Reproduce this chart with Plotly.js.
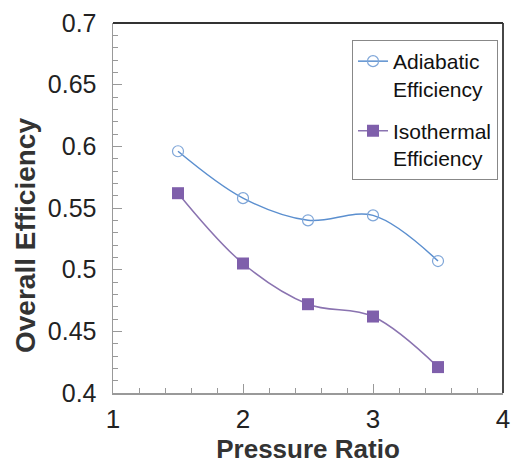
<!DOCTYPE html>
<html><head><meta charset="utf-8">
<script src="https://cdn.plot.ly/plotly-3.0.1.min.js"></script>
<style>html,body{margin:0;padding:0;background:#fff}#c{width:512px;height:465px}</style>
</head><body><div id="c"></div>
<script>
const pressureRatio = [1.5, 2, 2.5, 3, 3.5];
const adiabatic = [0.596, 0.558, 0.540, 0.544, 0.507];
const isothermal = [0.562, 0.505, 0.472, 0.462, 0.421];
const seriesNames = ['Adiabatic<br>Efficiency', 'Isothermal<br>Efficiency'];
const xTitle = 'Pressure Ratio';
const yTitle = 'Overall Efficiency';

const traces = [
  {x: pressureRatio, y: adiabatic, name: seriesNames[0], mode: 'lines+markers', legendgroup: 'a',
   line: {color: '#5b8fcf', width: 1.5, shape: 'spline', smoothing: 1},
   marker: {symbol: 'circle-open', size: 11, color: '#7fa6d8', line: {width: 1.2}}},
  {x: pressureRatio, y: isothermal, name: seriesNames[1], mode: 'lines+markers', legendgroup: 'b',
   line: {color: '#8a73b0', width: 1.5, shape: 'spline', smoothing: 1},
   marker: {symbol: 'square', size: 12, color: '#7f5fab'}}
];

const layout = {
  width: 512, height: 465,
  margin: {l: 113, r: 9, t: 23, b: 72},
  paper_bgcolor: '#fff', plot_bgcolor: '#fff',
  font: {family: 'Liberation Sans, Arial, sans-serif', color: '#222'},
  showlegend: true,
  legend: {x: (352 - 113) / 390, y: (393 - 40) / 370, xanchor: 'left', yanchor: 'top', bgcolor: '#fff',
    bordercolor: '#888', borderwidth: 1, font: {size: 21, color: '#111'},
    traceorder: 'grouped', tracegroupgap: 12, valign: 'top', itemwidth: 30},
  xaxis: {range: [1, 4], dtick: 1, tick0: 1, showgrid: false, zeroline: false,
    showline: true, linecolor: '#999', linewidth: 1.5,
    ticks: 'inside', ticklen: 9, tickcolor: '#999', ticklabelstandoff: 2,
    minor: {dtick: 0.2, ticks: 'inside', ticklen: 5, tickcolor: '#999', showgrid: false},
    tickfont: {size: 26, color: '#222'},
    title: {text: '<b>' + xTitle + '</b>', font: {size: 26, color: '#333'}, standoff: 2}},
  yaxis: {range: [0.4, 0.7], dtick: 0.05, tick0: 0.4, showgrid: false, zeroline: false,
    showline: true, linecolor: '#999', linewidth: 1.5,
    ticks: 'inside', ticklen: 9, tickcolor: '#999', ticklabelstandoff: 10,
    minor: {dtick: 0.01, ticks: 'inside', ticklen: 5, tickcolor: '#999', showgrid: false},
    tickfont: {size: 25, color: '#222'}},
  annotations: [
    {text: '<b>' + yTitle + '</b>', xref: 'paper', yref: 'paper', x: (25 - 113) / 390, y: (393 - 236) / 370,
     textangle: -90, showarrow: false, font: {size: 28, color: '#333'}, xanchor: 'center', yanchor: 'middle'}
  ],
  shapes: [
    {type: 'line', xref: 'paper', yref: 'paper', x0: 0, x1: 1, y0: 1, y1: 1, line: {color: '#333', width: 1.8}},
    {type: 'line', xref: 'paper', yref: 'paper', x0: 1, x1: 1, y0: 0, y1: 1, line: {color: '#333', width: 1.8}}
  ]
};
Plotly.newPlot('c', traces, layout, {displayModeBar: false, staticPlot: true});
</script></body></html>
